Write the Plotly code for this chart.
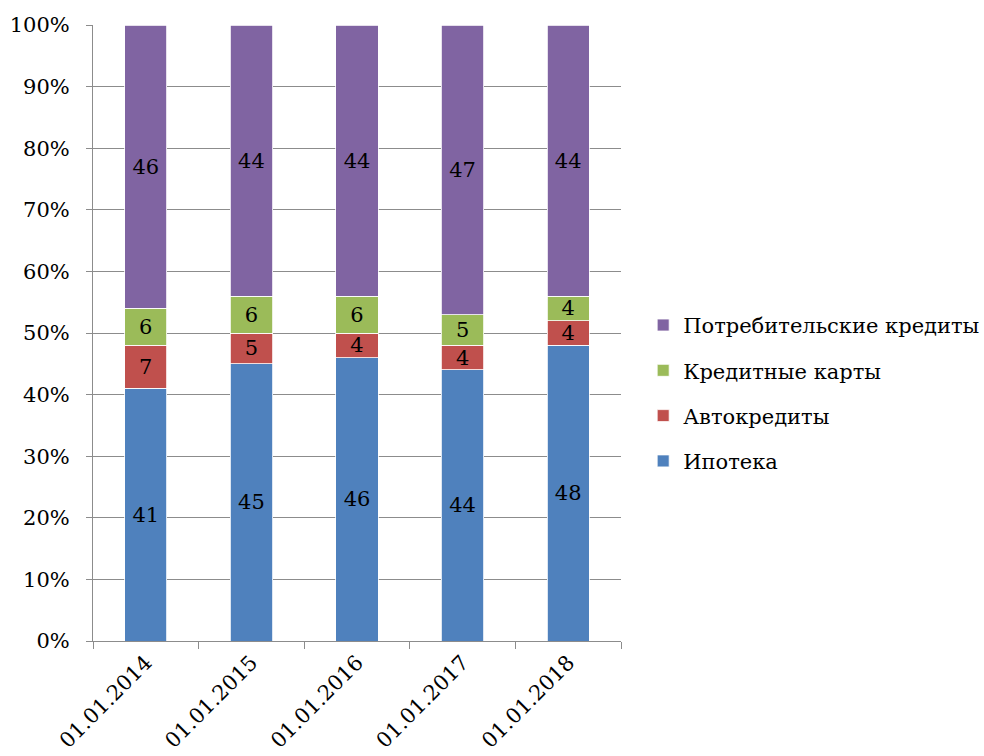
import plotly.graph_objects as go

dates = ["01.01.2014", "01.01.2015", "01.01.2016", "01.01.2017", "01.01.2018"]
mortgage = [41, 45, 46, 44, 48]
auto_loans = [7, 5, 4, 4, 4]
credit_cards = [6, 6, 6, 5, 4]
consumer = [46, 44, 44, 47, 44]

series = [
    ("Ипотека", mortgage, "#4F81BD"),
    ("Автокредиты", auto_loans, "#C0504D"),
    ("Кредитные карты", credit_cards, "#9BBB59"),
    ("Потребительские кредиты", consumer, "#8064A2"),
]

FONT = "DejaVu Serif"
GRID = "#8C8C8C"

fig = go.Figure()
for i, (name, vals, color) in enumerate(series):
    fig.add_trace(go.Bar(
        x=dates, y=vals, name=name,
        marker=dict(color=color, line=dict(color="#FFFFFF", width=0.8)),
        text=[str(v) for v in vals],
        textposition="inside", insidetextanchor="middle",
        constraintext="none",
        textfont=dict(family=FONT, size=21, color="black"),
        textangle=0,
        legendgroup=f"g{i}",
        legendrank=len(series) - i,
    ))

fig.update_layout(
    barmode="stack",
    bargap=0.6,
    width=984, height=756,
    margin=dict(l=93, r=363, t=25, b=115, autoexpand=False),
    paper_bgcolor="white", plot_bgcolor="white",
    font=dict(family=FONT, size=21, color="black"),
    uniformtext=dict(mode=False),
    legend=dict(
        x=1.042, xanchor="left", y=0.402, yanchor="middle",
        traceorder="grouped", tracegroupgap=15,
        font=dict(family=FONT, size=21, color="black"),
        itemwidth=30, bgcolor="rgba(0,0,0,0)",
    ),
    showlegend=True,
)
fig.update_yaxes(
    range=[0, 100], dtick=10, ticksuffix="%",
    showgrid=True, gridcolor=GRID, gridwidth=1,
    showline=True, linecolor=GRID, linewidth=1,
    ticks="outside", ticklen=6, tickcolor=GRID,
    ticklabelstandoff=12,
    tickfont=dict(family=FONT, size=21, color="black"),
    zeroline=False, automargin=False,
)
fig.update_xaxes(
    type="category", tickangle=-45,
    showline=True, linecolor=GRID, linewidth=1,
    ticks="outside", ticklen=7, tickcolor=GRID,
    tickson="boundaries",
    showgrid=False, automargin=False,
    tickfont=dict(family=FONT, size=21, color="black"),
)

fig.write_html("out.html")
